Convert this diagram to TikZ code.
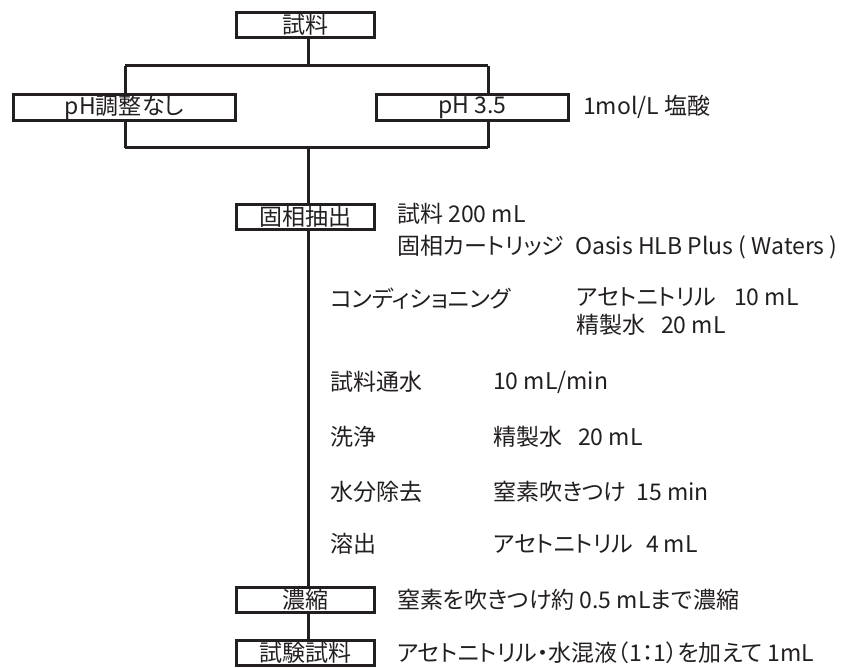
\documentclass[tikz,border=0pt]{standalone}
\usepackage{fontspec}
\setmainfont[RawFeature=+palt]{Noto Sans CJK JP}
\usetikzlibrary{backgrounds}
\definecolor{ink}{HTML}{231F20}
\begin{document}
\begin{tikzpicture}[x=1pt,y=-1pt,
  every node/.style={text=ink,font=\fontsize{23}{27}\selectfont},
  stepbox/.style={draw=ink,line width=3pt,fill=white,inner sep=0pt,minimum width=138pt,minimum height=25pt},
  lbl/.style={anchor=west,inner sep=0pt},
  conn/.style={draw=ink,line width=3pt}]
\useasboundingbox (0,0) rectangle (845,668);
% boxes
\node[stepbox] (s1) at (305.5,25) {試料};
\node[stepbox,minimum width=222pt,minimum height=26pt] (ph1) at (124.5,107.5) {pH調整なし};
\node[stepbox,minimum width=192pt,minimum height=26pt] (ph2) at (472.5,107.5) {pH 3.5};
\node[stepbox] (spe) at (305.5,217) {固相抽出};
\node[stepbox] (conc) at (305.5,599.5) {濃縮};
\node[stepbox] (fin) at (305.5,653) {試験試料};
% coordinates
\coordinate (tl) at (125,66);
\coordinate (tr) at (488,66);
\coordinate (bl) at (125,148);
\coordinate (br) at (488,148);
\coordinate (tm) at (308,66);
\coordinate (bm) at (308,148);
\begin{scope}[on background layer]
\draw[conn] (s1.south -| tm) -- (tm);
\draw[conn] (tl) -- (tr);
\draw[conn] (tl) -- (ph1.north -| tl);
\draw[conn] (ph1.south -| bl) -- (bl);
\draw[conn] (tr) -- (ph2.north -| tr);
\draw[conn] (ph2.south -| br) -- (br);
\draw[conn] (bl) -- (br);
\draw[conn] (bm) -- (spe.north -| bm);
\draw[conn] (spe.south -| bm) -- (conc.north -| bm);
\draw[conn] (conc.south -| bm) -- (fin.north -| bm);
\end{scope}
% labels
\node[lbl] (hcl) at (583,107) {1mol/L 塩酸};
\node[lbl] (t1) at (397,214) {試料 200 mL};
\node[lbl] (t2) at (397,247) {\makebox[178pt][l]{固相カートリッジ}Oasis HLB Plus ( Waters )};
\node[lbl] (c1) at (330,299) {コンディショニング};
\node[lbl] (c2) at (576,297) {アセトニトリル\hspace{18pt}10 mL};
\node[lbl] (c3) at (576,325) {精製水\hspace{16pt}20 mL};
\node[lbl] (d1) at (330,382) {試料通水};
\node[lbl] (d2) at (493,382) {10 mL/min};
\node[lbl] (e1) at (330,437) {洗浄};
\node[lbl] (e2) at (493,437) {精製水\hspace{16pt}20 mL};
\node[lbl] (f1) at (330,492) {水分除去};
\node[lbl] (f2) at (493,492) {窒素吹きつけ\hspace{10pt}15 min};
\node[lbl] (g1) at (330,544) {溶出};
\node[lbl] (g2) at (493,544) {アセトニトリル\hspace{13pt}4 mL};
\node[lbl] (h1) at (397,600) {窒素を吹きつけ約 0.5 mLまで濃縮};
\node[lbl] (k1) at (397,653) {アセトニトリル・水混液（1：1）を加えて 1mL};
\end{tikzpicture}
\end{document}
